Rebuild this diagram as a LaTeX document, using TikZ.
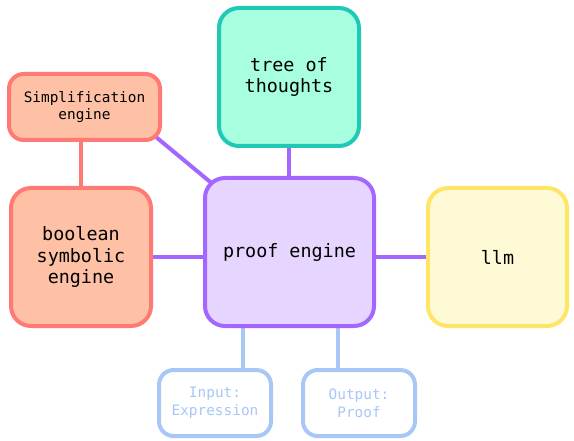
\documentclass[tikz,border=0pt]{standalone}
\usepackage{fontspec}
\setmonofont{DejaVu Sans Mono}
\usetikzlibrary{backgrounds,calc}

\definecolor{peachfill}{HTML}{FFC1A6}
\definecolor{peachline}{HTML}{FF7A75}
\definecolor{mintfill}{HTML}{A8FFE0}
\definecolor{mintline}{HTML}{1FC9B5}
\definecolor{lilacfill}{HTML}{E6D6FF}
\definecolor{lilacline}{HTML}{A366FF}
\definecolor{lemonfill}{HTML}{FFFAD6}
\definecolor{lemonline}{HTML}{FFE566}
\definecolor{skyline}{HTML}{A8C7F7}

\begin{document}
\begin{tikzpicture}[x=0.75pt, y=-0.75pt,
    box/.style={draw, line width=3pt, rounded corners=15pt, align=center, inner sep=0pt,
        font=\ttfamily\fontsize{13.8}{16.3}\selectfont},
    smallbox/.style={box, rounded corners=11pt, font=\ttfamily\fontsize{10.8}{13.3}\selectfont},
    link/.style={line width=3pt}]

    \useasboundingbox (0, 0) rectangle (574, 441);

    % Declare the boxes
    \node[smallbox, fill=peachfill, draw=peachline, minimum width=113.25pt, minimum height=49.5pt]
        at (84.5, 107) (Simp) {Simplification\\engine};
    \node[box, fill=peachfill, draw=peachline, minimum width=105pt, minimum height=103.5pt]
        at (81, 257) (Bool) {boolean\\symbolic\\engine};
    \node[box, fill=mintfill, draw=mintline, minimum width=105pt, minimum height=103.5pt]
        at (289, 77) (Tree) {tree of\\thoughts};
    \node[box, fill=lilacfill, draw=lilacline, minimum width=126.75pt, minimum height=111pt]
        at (289.5, 252) (Proof) {proof engine};
    \node[box, fill=lemonfill, draw=lemonline, minimum width=104.25pt, minimum height=103.5pt]
        at (497.5, 257) (LLM) {llm};
    \node[smallbox, fill=white, draw=skyline, text=skyline, minimum width=84pt, minimum height=49.5pt]
        at (215, 403) (In) {Input:\\Expression};
    \node[smallbox, fill=white, draw=skyline, text=skyline, minimum width=84pt, minimum height=49.5pt]
        at (359, 403) (Out) {Output:\\Proof};

    % Declare links
    \begin{scope}[on background layer]
        \draw[link, lilacline] (Tree.south) -- (Tree.south |- Proof.north);
        \draw[link, lilacline] (LLM.west) -- (LLM.west -| Proof.east);
        \draw[link, lilacline] (Bool.east) -- (Bool.east -| Proof.west);
        \draw[link, lilacline] ($(Simp.south east)!-0.5!(Proof.north west)$)
            -- ($(Proof.north west)!-0.5!(Simp.south east)$);
        \draw[link, peachline] (Bool.north) -- (Bool.north |- Simp.south);
        \draw[link, skyline] ([xshift=21pt]In.north) -- ([xshift=21pt]In.north |- Proof.south);
        \draw[link, skyline] ([xshift=-15.4pt]Out.north) -- ([xshift=-15.4pt]Out.north |- Proof.south);
    \end{scope}

\end{tikzpicture}
\end{document}
